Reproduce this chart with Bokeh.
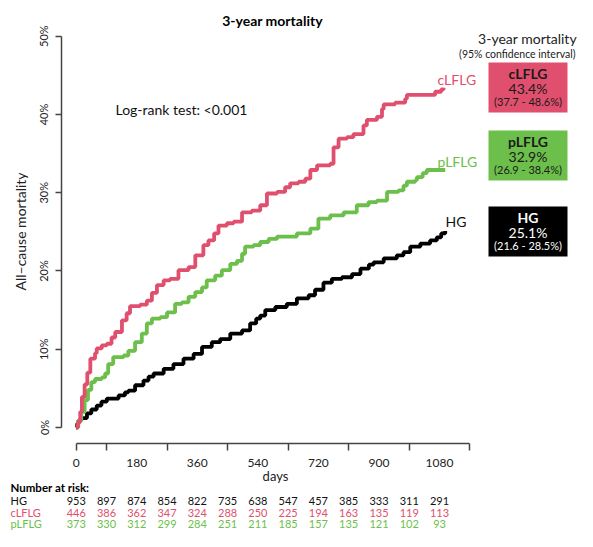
import math
from bokeh.plotting import figure
from bokeh.models import Range1d, LinearAxis, FixedTicker, PrintfTickFormatter
from bokeh.core.properties import value
from bokeh.embed import file_html
from bokeh.resources import INLINE

FONT = "Lato"
RED = "#E0506E"
GREEN = "#6CBF4A"
BLACK = "#000000"
AXC = "#444444"

# ---------------- data ----------------
GROUPS = ["HG", "cLFLG", "pLFLG"]

clflg_days = [0, 5, 12, 17, 25, 33, 42, 56, 61, 76, 91, 105, 116, 136, 150, 160, 190, 210, 225, 240,
              260, 279, 304, 334, 354, 378, 393, 410, 423, 448, 468, 493, 522, 547, 567, 597, 621, 636,
              661, 681, 696, 716, 755, 765, 780, 805, 824, 854, 864, 894, 909, 914, 948, 978, 983, 1067,
              1085, 1092]
clflg_pct = [0.0, 0.7, 2.0, 3.9, 5.5, 7.0, 8.8, 9.5, 10.1, 10.5, 10.7, 11.5, 12.2, 13.7, 14.6, 15.5, 15.7,
             16.2, 17.2, 18.2, 18.8, 19.0, 20.1, 20.5, 22.0, 23.3, 23.9, 24.8, 25.8, 26.1, 26.3, 27.5, 27.7,
             28.4, 29.9, 30.1, 30.7, 31.2, 31.4, 31.8, 32.9, 33.5, 33.7, 35.8, 36.9, 37.1, 37.5, 38.6, 39.3,
             39.7, 40.7, 41.3, 41.5, 42.0, 42.5, 42.9, 43.2, 43.4]

plflg_days = [0, 6, 15, 25, 35, 45, 56, 76, 86, 95, 110, 141, 155, 175, 195, 210, 225, 250, 270, 294, 314,
              334, 354, 374, 388, 413, 433, 458, 478, 493, 502, 527, 547, 572, 597, 656, 696, 720, 755, 795,
              834, 869, 894, 924, 958, 973, 983, 1008, 1013, 1030, 1042, 1097]
plflg_pct = [0.0, 0.9, 2.0, 3.5, 4.8, 5.8, 6.2, 6.4, 6.9, 8.1, 9.0, 9.2, 9.8, 10.9, 12.0, 13.3, 13.9, 14.1,
             14.7, 15.8, 16.0, 16.7, 17.3, 17.9, 18.8, 19.4, 20.1, 20.9, 21.3, 22.2, 23.1, 23.3, 23.7, 24.1,
             24.4, 24.8, 25.4, 26.7, 27.1, 27.5, 28.4, 28.8, 29.0, 30.1, 30.3, 30.9, 31.4, 31.6, 32.0, 32.5,
             32.9, 32.9]

hg_days = [0, 3, 7, 15, 32, 45, 61, 75, 91, 126, 145, 155, 175, 200, 215, 230, 260, 289, 319, 349, 374, 403,
           428, 458, 493, 517, 535, 547, 562, 592, 626, 656, 691, 710, 735, 760, 790, 820, 845, 870, 884, 914,
           953, 973, 993, 1023, 1052, 1072, 1085, 1097]
hg_pct = [0.0, 0.5, 0.9, 1.2, 1.8, 2.3, 2.8, 3.3, 3.7, 4.1, 4.5, 4.7, 5.4, 6.0, 6.5, 6.9, 7.5, 8.1, 8.8, 9.4,
          10.3, 10.9, 11.3, 12.0, 12.4, 13.3, 13.9, 14.3, 15.0, 15.4, 15.8, 16.5, 16.9, 17.6, 18.5, 19.0,
          19.2, 19.6, 20.3, 20.8, 21.1, 21.6, 22.0, 22.4, 23.1, 23.5, 23.9, 24.3, 24.8, 25.1]

x_ticks = [0, 180, 360, 540, 720, 900, 1080]
x_minor_ticks = [0, 90, 270, 450, 630, 810, 990, 1170]
y_ticks = [0, 10, 20, 30, 40, 50]

risk_days = [0, 90, 180, 270, 360, 450, 540, 630, 720, 810, 900, 990, 1080]
risk_hg = [953, 897, 874, 854, 822, 735, 638, 547, 457, 385, 333, 311, 291]
risk_clflg = [446, 386, 362, 347, 324, 288, 250, 225, 194, 163, 135, 119, 113]
risk_plflg = [373, 330, 312, 299, 284, 251, 211, 185, 157, 135, 121, 102, 93]

mort_est = ["43.4%", "32.9%", "25.1%"]
mort_ci = ["(37.7 - 48.6%)", "(26.9 - 38.4%)", "(21.6 - 28.5%)"]

# ---------------- geometry (reference pixel coords) ----------------
W, H = 577, 531
X0_PX, PX_PER_DAY = 75.7, 0.3364
Y0_PX, PX_PER_PCT = 427.0, 7.826


def dx(px):
    return (px - X0_PX) / PX_PER_DAY


def dy(py):
    return (Y0_PX - py) / PX_PER_PCT


p = figure(width=W, height=H,
           x_range=Range1d(dx(0), dx(W)), y_range=Range1d(dy(H), dy(0)),
           x_axis_type=None, y_axis_type=None, min_border=0,
           toolbar_location=None, output_backend="svg", outline_line_color=None)
p.background_fill_color = "white"


def add_text(xpx, ypx, s, size, color="#000000", bold=False, align="left", angle=0.0):
    p.text(x=[dx(xpx)], y=[dy(ypx)], text=[s], text_font=value(FONT),
           text_font_size=f"{size}px", text_color=color,
           text_font_style="bold" if bold else "normal",
           text_align=align, text_baseline="middle", angle=angle)


# axes
xaxis = LinearAxis(fixed_location=dy(443), bounds=(0, 1170),
                   ticker=FixedTicker(ticks=x_ticks, minor_ticks=x_minor_ticks),
                   major_tick_out=0, major_tick_in=0, minor_tick_out=7, minor_tick_in=0,
                   major_label_standoff=8,
                   axis_line_color=AXC, axis_line_width=1.5,
                   minor_tick_line_color=AXC, minor_tick_line_width=1.5,
                   major_label_text_font=FONT, major_label_text_font_size="12px",
                   major_label_text_color="#222222")
p.add_layout(xaxis, "below")

yaxis = LinearAxis(fixed_location=dx(61), bounds=(0, 50),
                   ticker=FixedTicker(ticks=y_ticks, minor_ticks=[]),
                   formatter=PrintfTickFormatter(format="%d%%"),
                   major_tick_out=6, major_tick_in=0, minor_tick_out=0, minor_tick_in=0,
                   major_label_orientation="vertical", major_label_standoff=5,
                   axis_line_color=AXC, axis_line_width=1.5,
                   major_tick_line_color=AXC, major_tick_line_width=1.5,
                   major_label_text_font=FONT, major_label_text_font_size="11px",
                   major_label_text_color="#222222")
p.add_layout(yaxis, "left")

# curves
p.step(x=hg_days, y=hg_pct, mode="after", line_color=BLACK, line_width=3.8)
p.step(x=plflg_days, y=plflg_pct, mode="after", line_color=GREEN, line_width=3.8)
p.step(x=clflg_days, y=clflg_pct, mode="after", line_color=RED, line_width=3.8)

# texts in plot
add_text(272, 20, "3-year mortality", 14, bold=True, align="center")
add_text(115, 109, "Log-rank test: <0.001", 14, color="#111111")
add_text(20, 231, "All–cause mortality", 14, color="#222222", align="center", angle=math.pi / 2)
add_text(275, 475, "days", 13, color="#222222", align="center")

add_text(437, 79, "cLFLG", 14, color=RED)
add_text(437, 161, "pLFLG", 14, color=GREEN)
add_text(445, 221, "HG", 14, color="#111111")

# legend boxes
add_text(527, 38, "3-year mortality", 14, color="#222222", align="center")
add_text(575, 53, "(95% confidence interval)", 10.5, color="#222222", align="right")

box_names = ["cLFLG", "pLFLG", "HG"]
box_colors = [RED, GREEN, BLACK]
box_text_colors = ["#1a1a1a", "#1a1a1a", "#ffffff"]
box_tops = [62, 130, 206]
for name, col, tcol, top, est, ci in zip(box_names, box_colors, box_text_colors, box_tops, mort_est, mort_ci):
    p.quad(left=[dx(488)], right=[dx(567)], top=[dy(top)], bottom=[dy(top + 50)],
           fill_color=col, line_color=None)
    add_text(527.5, top + 11, name, 14, color=tcol, bold=True, align="center")
    add_text(527.5, top + 26, est, 14, color=tcol, align="center")
    add_text(527.5, top + 39, ci, 11, color=tcol, align="center")

# risk table
add_text(10, 487, "Number at risk:", 11.5, bold=True)
rows = [(risk_hg, "HG", "#111111", 500), (risk_clflg, "cLFLG", RED, 512), (risk_plflg, "pLFLG", GREEN, 523)]
for nums, lab, col, ypx in rows:
    add_text(10, ypx, lab, 11, color=col)
    p.text(x=risk_days, y=[dy(ypx)] * len(risk_days), text=[str(n) for n in nums],
           text_font=value(FONT), text_font_size="11px", text_color=col,
           text_align="center", text_baseline="middle")

open("out.html", "w").write(file_html(p, INLINE))
